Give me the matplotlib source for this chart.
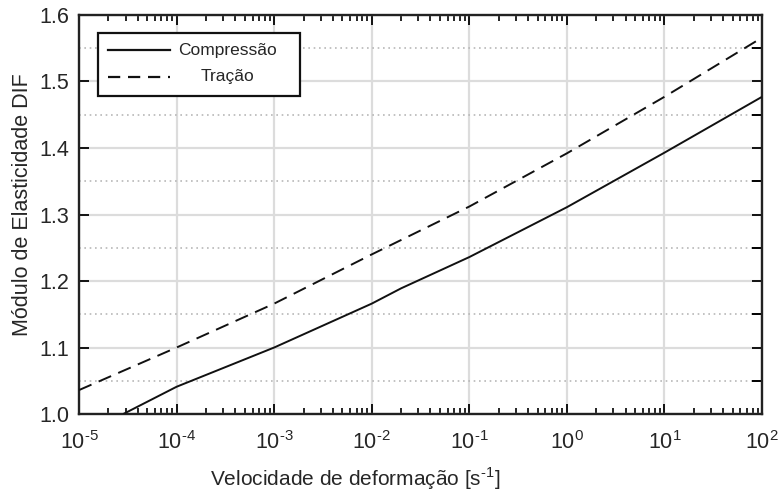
import numpy as np
import matplotlib.pyplot as plt
from matplotlib.ticker import LogLocator, MultipleLocator, NullFormatter
from matplotlib.patches import Rectangle
from matplotlib.lines import Line2D

plt.rcParams['font.family'] = ['Liberation Sans', 'DejaVu Sans']
plt.rcParams['mathtext.fontset'] = 'custom'
plt.rcParams['mathtext.rm'] = 'Liberation Sans'

# dados
taxa_comp = [2.84e-5, 1e-4, 1e-3, 1e-2, 2e-2, 1e-1, 1e0, 1e1, 1e2]
dif_comp = [1.000, 1.041, 1.100, 1.166, 1.189, 1.236, 1.311, 1.393, 1.477]

taxa_trac = [1e-5, 1e-4, 1e-3, 1e-2, 1e-1, 1e0, 1e1, 1e2]
dif_trac = [1.036, 1.100, 1.166, 1.240, 1.312, 1.392, 1.477, 1.566]

decadas = [1e-5, 1e-4, 1e-3, 1e-2, 1e-1, 1e0, 1e1, 1e2]
rotulos = ['Compressão', 'Tração']

txt = '#262626'
fig = plt.figure(figsize=(7.8, 4.93), dpi=100)
ax = fig.add_axes([0.1013, 0.1602, 0.8757, 0.8094])

ax.plot(taxa_comp, dif_comp, color='#111111', lw=1.4, solid_capstyle='butt', zorder=3)
ax.plot(taxa_trac, dif_trac, color='#111111', lw=1.4, linestyle=(0, (7, 4)), zorder=3)

ax.set_xscale('log')
ax.set_xlim(1e-5, 1e2)
ax.set_ylim(1.0, 1.6)
ax.set_xticks(decadas)
ax.xaxis.set_minor_locator(LogLocator(base=10, subs=np.arange(2, 10), numticks=20))
ax.xaxis.set_minor_formatter(NullFormatter())
ax.yaxis.set_major_locator(MultipleLocator(0.1))
ax.yaxis.set_minor_locator(MultipleLocator(0.05))
ax.yaxis.set_major_formatter(plt.FuncFormatter(lambda v, p: f'{v:.1f}'))


def fmt_pot(v, p):
    e = int(round(np.log10(v)))
    s = str(e).replace('-', '\u2010')
    return '$\\mathregular{10^{' + s + '}}$'


ax.xaxis.set_major_formatter(plt.FuncFormatter(fmt_pot))

# grade
ax.grid(which='major', axis='both', color='#dcdcdc', lw=1.6, linestyle='-', zorder=0)
ax.grid(which='minor', axis='y', color='#b8b8b8', lw=1.2, linestyle=(0, (1, 2.2)), zorder=0)
ax.set_axisbelow(True)

ax.tick_params(which='major', direction='in', length=7, width=1.4, top=True, right=True,
               labelsize=15.5, colors='#111111', labelcolor=txt)
ax.tick_params(axis='y', which='major', pad=7)
ax.tick_params(axis='x', which='major', pad=12)
ax.tick_params(which='minor', axis='x', direction='in', length=4, width=1.2, top=True, bottom=True)
ax.tick_params(which='minor', axis='y', direction='in', length=7, width=1.4, left=False, right=True)
for s in ax.spines.values():
    s.set_linewidth(1.7)
    s.set_color('#222222')

ax.set_xlabel('Velocidade de deformação [s$^{\\mathregular{\u20101}}$]', fontsize=15, color=txt)
ax.xaxis.set_label_coords(0.404, -0.128)
ax.set_ylabel('Módulo de Elasticidade DIF', fontsize=15.5, color=txt)
ax.yaxis.set_label_coords(-0.0673, 0.525)

# legenda
ax.add_patch(Rectangle((0.0278, 0.797), 0.2958, 0.158, transform=ax.transAxes,
                       facecolor='white', edgecolor='#111111', lw=1.6, zorder=5))
ax.add_line(Line2D([0.0425, 0.1332], [0.912, 0.912], transform=ax.transAxes,
                   color='#111111', lw=1.6, zorder=6))
ax.add_line(Line2D([0.0425, 0.1332], [0.845, 0.845], transform=ax.transAxes,
                   color='#111111', lw=1.6, linestyle=(0, (5.5, 3.5)), zorder=6))
ax.text(0.2167, 0.912, rotulos[0], transform=ax.transAxes, ha='center', va='center',
        fontsize=12.5, color=txt, zorder=7)
ax.text(0.2167, 0.845, rotulos[1], transform=ax.transAxes, ha='center', va='center',
        fontsize=12.5, color=txt, zorder=7)

fig.savefig('out.png', dpi=100)
